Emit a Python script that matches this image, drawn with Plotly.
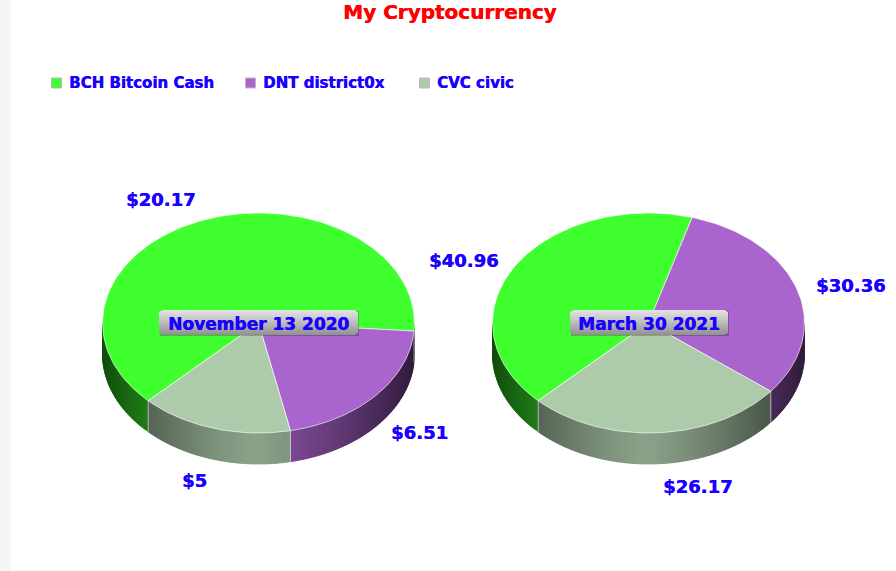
import numpy as np
import plotly.graph_objects as go

# DATA
categories = ["BCH Bitcoin Cash", "DNT district0x", "CVC civic"]
dates = ["November 13 2020", "March 30 2021"]
values_nov = [20.17, 6.51, 5]
values_mar = [40.96, 30.36, 26.17]
labels_nov = ["$20.17", "$6.51", "$5"]
labels_mar = ["$40.96", "$30.36", "$26.17"]

# COLORS
colors = [(64, 255, 47), (170, 100, 205), (173, 203, 171)]
BLUE = "#1a00ff"
FONT = "DejaVu Sans"

# PIE GEOMETRY (pixels, axes run 1:1 with the page)
centers_x = [258.5, 648.5]
CY = 323
RX = 156
RY = 110
DEPTH = 31
START = 225  # degrees clockwise from top
STEP = 1.5

# where the value labels sit
label_pos_nov = [(160.5, 199), (419.5, 432), (194, 480)]
label_pos_mar = [(463.5, 260), (850.5, 285), (697.5, 486)]
box_x = [(159, 358), (570, 728)]
BOX_Y = (310, 335)
legend_x = [51, 245, 419]
LEGEND_Y = 83


def rim(cx, deg, dy=0):
    a = np.radians(deg)
    return cx + RX * np.sin(a), CY - RY * np.cos(a) + dy


def shade(rgb, dx):
    # the side of the pie is brightest at the front and dark at the edges
    f = 0.8 - 0.5 * abs(dx) ** 1.3
    return "rgb(%d,%d,%d)" % tuple(c * f for c in rgb)


def heavy(size, color):
    # a small text shadow makes the bold look as thick as the original
    return dict(family=FONT, size=size, color=color, shadow="0.5px 0 0 " + color)


fig = go.Figure()


def add_poly(x, y, fill, line=None, width=0.5):
    fig.add_trace(go.Scatter(
        x=x, y=y, mode="lines", fill="toself", fillcolor=fill,
        line=dict(color=line or fill, width=width),
        hoverinfo="skip", showlegend=False))


def draw_pie(cx, values):
    total = sum(values)
    a0 = START
    spans = []
    for v in values:
        a1 = a0 + v / total * 360
        spans.append((a0, a1))
        a0 = a1

    # side wall, only the part facing us
    for (a0, a1), rgb in zip(spans, colors):
        for shift in (0, 360):
            lo = max(a0 - shift, 90)
            hi = min(a1 - shift, 270)
            if hi <= lo:
                continue
            n = max(int((hi - lo) / STEP), 1)
            edges = np.linspace(lo, hi, n + 1)
            # drawn from the far end back so each strip overlaps the next one
            for e0, e1 in list(zip(edges[:-1], edges[1:]))[::-1]:
                e2 = min(e1 + STEP, hi)
                deg = np.array([e0, e1, e2])
                xt, yt = rim(cx, deg)
                xb, yb = rim(cx, deg[::-1], DEPTH)
                x = np.concatenate([xt, xb, xt[:1]])
                y = np.concatenate([yt, yb, yt[:1]])
                mid = np.sin(np.radians((e0 + e1) / 2))
                add_poly(x, y, shade(rgb, mid))

    # light seams on the wall where two slices meet
    for a0, a1 in spans:
        d = a0 % 360
        if 90 < d < 270:
            x0, y0 = rim(cx, d)
            x1, y1 = rim(cx, d, DEPTH)
            fig.add_trace(go.Scatter(
                x=[x0, x1], y=[y0, y1], mode="lines",
                line=dict(color="rgba(255,255,255,0.55)", width=1),
                hoverinfo="skip", showlegend=False))

    # top face
    for (a0, a1), rgb in zip(spans, colors):
        deg = np.linspace(a0, a1, int((a1 - a0) / STEP) + 2)
        xs, ys = rim(cx, deg)
        x = np.concatenate([[cx], xs, [cx]])
        y = np.concatenate([[CY], ys, [CY]])
        add_poly(x, y, "rgb(%d,%d,%d)" % rgb, "rgba(255,255,255,0.6)", 1)


draw_pie(centers_x[0], values_nov)
draw_pie(centers_x[1], values_mar)

# legend swatches
fig.add_trace(go.Scatter(
    x=[lx + 5.5 for lx in legend_x], y=[LEGEND_Y] * 3, mode="markers",
    marker=dict(symbol="square", size=10,
                color=["rgb(%d,%d,%d)" % c for c in colors],
                line=dict(color="#bbbbbb", width=1)),
    hoverinfo="skip", showlegend=False))

annotations = [dict(
    text="<b>My Cryptocurrency</b>", x=450, y=12, xref="x", yref="y", showarrow=False,
    xanchor="center", yanchor="middle", font=heavy(20, "#ff0000"))]

for lx, cat in zip(legend_x, categories):
    annotations.append(dict(
        text="<b>%s</b>" % cat, x=lx + 16, y=LEGEND_Y, xref="x", yref="y", showarrow=False,
        xanchor="left", yanchor="middle", font=heavy(15, BLUE)))

for pos, txt in zip(label_pos_nov + label_pos_mar, labels_nov + labels_mar):
    annotations.append(dict(
        text="<b>%s</b>" % txt, x=pos[0], y=pos[1], xref="x", yref="y", showarrow=False,
        xanchor="center", yanchor="middle", font=heavy(18, BLUE)))

# date plates: rows of grey going from light to dark, corners cut by a row inset
shapes = [dict(type="rect", xref="paper", yref="paper", x0=0, x1=10.5 / 896, y0=0, y1=1,
               fillcolor="#f5f5f5", line_width=0, layer="below")]
for (x0, x1), date in zip(box_x, dates):
    shapes.append(dict(type="rect", xref="x", yref="y", x0=x0 + 1, x1=x1 + 1,
                       y0=BOX_Y[0] + 1, y1=BOX_Y[1] + 1,
                       fillcolor="rgba(0,0,0,0.22)", line_width=0))
    rows = BOX_Y[1] - BOX_Y[0]
    for i in range(rows):
        t = i / (rows - 1)
        g = int(226 - 80 * t ** 1.1)
        inset = [3, 1][i] if i < 2 else ([1, 3][i - rows + 2] if i >= rows - 2 else 0)
        shapes.append(dict(type="rect", xref="x", yref="y", x0=x0 + inset, x1=x1 - inset,
                           y0=BOX_Y[0] + i, y1=BOX_Y[0] + i + 1,
                           fillcolor="rgb(%d,%d,%d)" % (g, g, g), line_width=0))
    annotations.append(dict(
        text="<b>%s</b>" % date, x=(x0 + x1) / 2, y=sum(BOX_Y) / 2 + 1, xref="x", yref="y",
        showarrow=False, xanchor="center", yanchor="middle", font=heavy(17, BLUE)))

fig.update_layout(
    width=896, height=571, margin=dict(l=0, r=0, t=0, b=0),
    paper_bgcolor="white", plot_bgcolor="rgba(0,0,0,0)", showlegend=False,
    xaxis=dict(range=[0, 896], visible=False, fixedrange=True),
    yaxis=dict(range=[571, 0], visible=False, fixedrange=True),
    shapes=shapes, annotations=annotations)

fig.write_html("out.html", config=dict(displayModeBar=False),
               post_script="document.body.style.margin='0';")
